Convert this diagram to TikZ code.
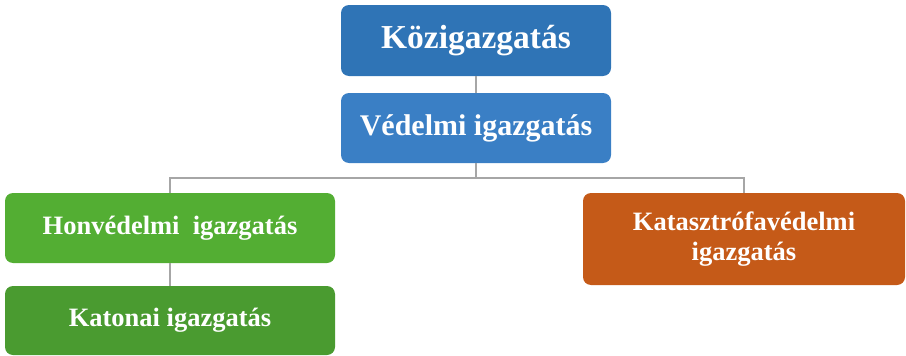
\documentclass[tikz,border=0pt]{standalone}
\usepackage{fontspec}
\setmainfont{Liberation Serif}
\usepackage{xcolor}
\usepackage{tikz}

\definecolor{kozblue}{HTML}{2F74B6}
\definecolor{vedblue}{HTML}{3A7FC5}
\definecolor{hongreen}{HTML}{53AE33}
\definecolor{katgreen}{HTML}{4A9B30}
\definecolor{kataorange}{HTML}{C55A18}
\definecolor{linegray}{HTML}{A6A6A6}

\begin{document}
\begin{tikzpicture}[x=1pt,y=1pt]
\tikzstyle{box}=[rounded corners=8pt, inner sep=0pt, text=white, font=\bfseries, align=center]
\tikzstyle{link}=[linegray, line width=2pt]
\useasboundingbox (0,0) rectangle (906,-356);
\node [box, fill=kozblue, minimum width=270pt, minimum height=71pt, font=\bfseries\fontsize{33.5}{38}\selectfont] (koz) at (476,-40.5) {Közigazgatás};
\node [box, fill=vedblue, minimum width=270pt, minimum height=70pt, font=\bfseries\fontsize{30}{34}\selectfont] (ved) at (476,-128) {Védelmi igazgatás};
\node [box, fill=hongreen, minimum width=330pt, minimum height=70pt, font=\bfseries\fontsize{26.5}{30}\selectfont] (hon) at (170,-228) {Honvédelmi\ \ igazgatás};
\node [box, fill=katgreen, minimum width=330pt, minimum height=69pt, font=\bfseries\fontsize{26.5}{30}\selectfont] (kat) at (170,-320.5) {Katonai igazgatás};
\node [box, fill=kataorange, minimum width=322pt, minimum height=92pt, font=\bfseries\fontsize{26.5}{30}\selectfont] (kata) at (744,-239) {Katasztrófavédelmi\\igazgatás};
\draw [link] (koz.south) -- (ved.north);
\draw [link] (ved.south) -- ++(0,-15) -| (hon.north);
\draw [link] (ved.south) -- ++(0,-15) -| (kata.north);
\draw [link] (hon.south) -- (kat.north);

\end{tikzpicture}
\end{document}
